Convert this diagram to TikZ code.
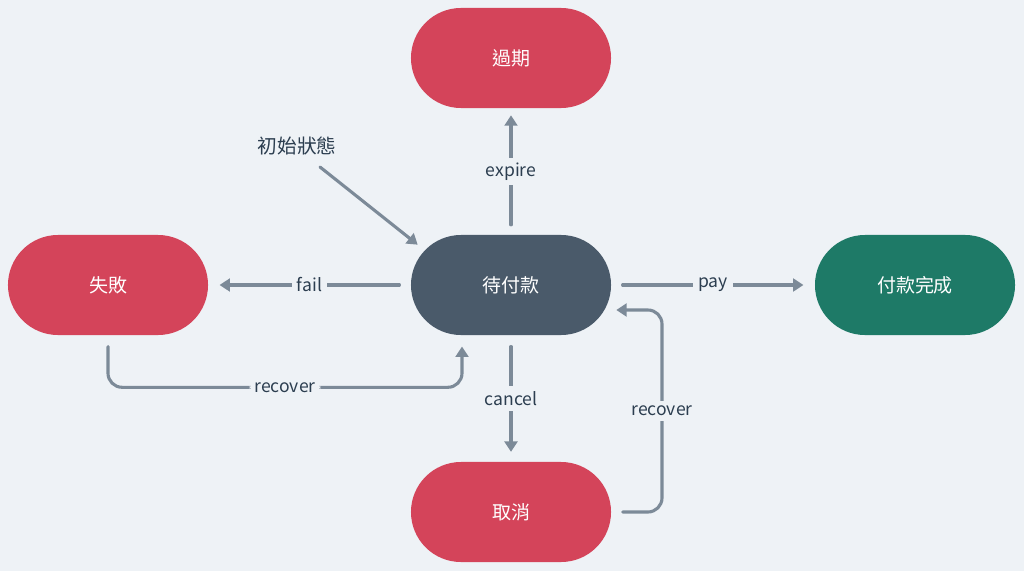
\documentclass[tikz,border=0pt]{standalone}
\usepackage{fontspec}
\usepackage{tikz}
\usepackage{xcolor}
\usetikzlibrary{arrows.meta, positioning, calc}
\setmainfont{Noto Sans CJK TC}
\definecolor{Pay_Bg}{HTML}{EEF2F6}
\definecolor{Pay_Red}{HTML}{D4445A}
\definecolor{Pay_Slate}{HTML}{4A5A6A}
\definecolor{Pay_Green}{HTML}{1E7A67}
\definecolor{Pay_Line}{HTML}{7C8A98}
\definecolor{Pay_Text}{HTML}{2C3E50}

\tikzset{
    state/.style={rounded corners=1.25cm, minimum width=5cm, minimum height=2.5cm,
        text=white, font=\fontsize{13.5pt}{15pt}\selectfont},
    flow/.style={draw=Pay_Line, line width=2.2pt, line cap=round,
        -{Triangle[length=2.6mm, width=3.2mm]}},
    lbl/.style={fill=Pay_Bg, text=Pay_Text, inner sep=3.5pt,
        font=\fontsize{12.5pt}{14pt}\selectfont}
}

\begin{document}
\begin{tikzpicture}[x=0.025cm, y=-0.025cm]

    % === Background, 1024 x 571 px ===
    \fill[Pay_Bg] (0,0) rectangle (1024,571);
    \useasboundingbox (0,0) rectangle (1024,571);

    % === States ===
    \node[state, fill=Pay_Slate] (pending) at (511,285) {待付款};
    \node[state, fill=Pay_Red] (expired) at (511,58) {過期};
    \node[state, fill=Pay_Red] (failed) at (108,285) {失敗};
    \node[state, fill=Pay_Green] (paid) at (915,285) {付款完成};
    \node[state, fill=Pay_Red] (cancelled) at (511,512) {取消};

    % initial marker
    \node[text=Pay_Text, font=\fontsize{14pt}{16pt}\selectfont] (init) at (297,146) {初始狀態};
    \coordinate (initstart) at (320,167);
    \coordinate (initend) at ($(pending.north west)+(7,10)$);
    \draw[flow] (initstart) -- (initend);

    % === Straight transitions ===
    \draw[flow, shorten <=7, shorten >=5] (pending.north) -- node[lbl] {expire} (expired.south);
    \draw[flow, shorten <=8, shorten >=8] (pending.west) -- node[lbl] {fail} (failed.east);
    \draw[flow, shorten <=8, shorten >=8] (pending.east) -- node[lbl] {pay} (paid.west);
    \draw[flow, shorten <=8, shorten >=7] (pending.south) -- node[lbl] {cancel} (cancelled.north);

    % === Recover loops ===
    \coordinate (backL) at ($(pending.south)+(-49,0)$);
    \coordinate (backLlow) at ($(pending.south)+(-49,52)$);
    \draw[flow, rounded corners=10, shorten <=8, shorten >=8]
        (failed.south) |- node[lbl, pos=0.75] {recover} (backLlow) -- (backL);

    \coordinate (backR) at ($(pending.center)+(94,25)$);
    \coordinate (backRtop) at ($(pending.center)+(151,25)$);
    \draw[flow, rounded corners=10, shorten <=8, shorten >=8]
        (cancelled.east) -| node[lbl, pos=0.75] {recover} (backRtop) -- (backR);

\end{tikzpicture}
\end{document}
